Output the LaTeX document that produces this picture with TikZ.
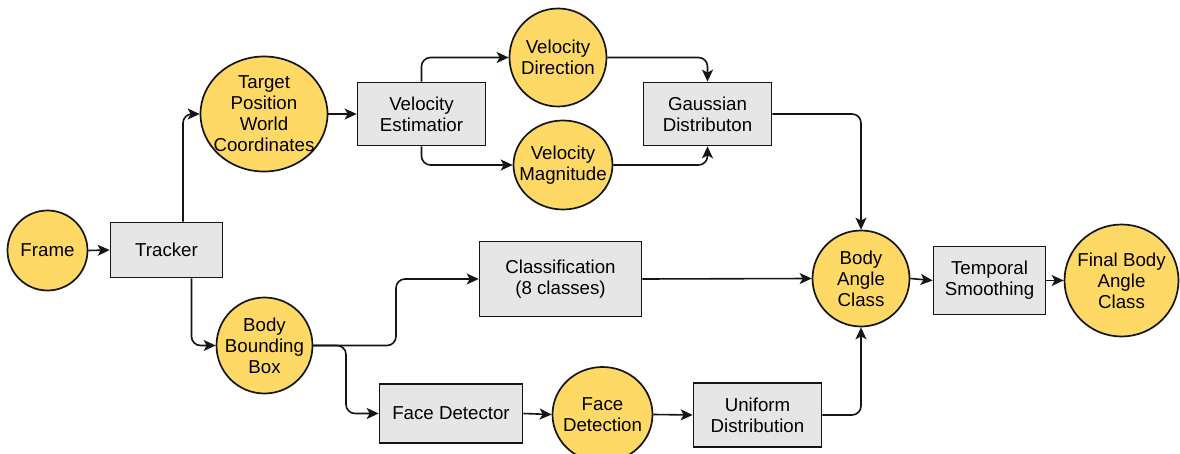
\documentclass[tikz,border=0pt]{standalone}
\usepackage{fontspec}
\setmainfont{Liberation Sans}
\usetikzlibrary{shapes.geometric,arrows.meta}
\definecolor{nodeyellow}{HTML}{FFD966}
\definecolor{boxgray}{HTML}{E6E6E6}
\definecolor{edgeblack}{HTML}{151515}
\begin{document}
\begin{tikzpicture}[x=1pt,y=-1pt,
  txt/.style={font=\fontsize{18.7}{21}\selectfont, align=center, text=black},
  proc/.style={rectangle, draw=edgeblack, line width=1.7pt, fill=boxgray, inner sep=0pt, txt},
  datum/.style={ellipse, draw=edgeblack, line width=1.7pt, fill=nodeyellow, inner sep=0pt},
  conn/.style={draw=edgeblack, line width=1.6pt, rounded corners=9pt,
    -{Stealth[length=12pt,width=11pt,inset=3pt]}},
]
\clip (0,0) rectangle (1180,454);
\fill[white] (0,0) rectangle (1180,454);

% data nodes (ellipses)
\node[datum, minimum width=80pt, minimum height=80pt, label={[txt]center:Frame}] (fr) at (47.5,250.5) {};
\node[datum, minimum width=127pt, minimum height=115pt, label={[txt]center:{Target\\Position\\World\\Coordinates}}] (tp) at (264,114) {};
\node[datum, minimum width=97pt, minimum height=98pt, label={[txt]center:{Velocity\\Direction}}] (vd) at (558,57.5) {};
\node[datum, minimum width=99pt, minimum height=89pt, label={[txt]center:{Velocity\\Magnitude}}] (vm) at (563,165) {};
\node[datum, minimum width=96pt, minimum height=96pt, label={[txt]center:{Body\\Bounding\\Box}}] (bb) at (264.5,345.5) {};
\node[datum, minimum width=100pt, minimum height=95pt, label={[txt]center:{Face\\Detection}}] (fc) at (602.5,414.5) {};
\node[datum, minimum width=97pt, minimum height=96pt, label={[txt]center:{Body\\Angle\\Class}}] (ba) at (861,278.5) {};
\node[datum, minimum width=114pt, minimum height=112pt, label={[txt]center:{Final Body\\Angle\\Class}}] (fb) at (1121.5,280.5) {};

% process nodes (boxes)
\node[proc, minimum width=112pt, minimum height=55pt] (tr) at (166.5,250) {Tracker};
\node[proc, minimum width=128pt, minimum height=63pt] (ve) at (421.5,114) {Velocity\\Estimatior};
\node[proc, minimum width=128pt, minimum height=63pt] (gd) at (707.5,114) {Gaussian\\Distributon};
\node[proc, minimum width=162pt, minimum height=75pt] (cl) at (560.5,279) {Classification\\(8 classes)};
\node[proc, minimum width=143pt, minimum height=59pt] (fd) at (451,413.5) {Face Detector};
\node[proc, minimum width=128pt, minimum height=64pt] (ud) at (757.5,415) {Uniform\\Distribution};
\node[proc, minimum width=112pt, minimum height=68pt] (ts) at (989.5,280.5) {Temporal\\Smoothing};

% junction points
\coordinate (j1) at (396,279);
\coordinate (j2) at (346,413.5);

% connectors
\draw[conn] (fr.east) -- (tr.west);
\draw[conn] ([xshift=16.5pt]tr.north) |- (tp.west);
\draw[conn] ([xshift=25pt]tr.south) |- (bb.west);
\draw[conn] (tp.east) -- (ve.west);
\draw[conn] (ve.north) |- (vd.west);
\draw[conn] (ve.south) |- (vm.west);
\draw[conn] (vd.east) -| (gd.north);
\draw[conn] (vm.east) -| (gd.south);
\draw[conn] (gd.east) -| (ba.north);
\draw[conn] (bb.east) -| (j1) -- (cl.west);
\draw[conn] (bb.east) -| (j2) -- (fd.west);
\draw[conn] (cl.east) -- (ba.west);
\draw[conn] (fd.east) -- (fc.west);
\draw[conn] (fc.east) -- (ud.west);
\draw[conn] (ud.east) -| (ba.south);
\draw[conn] (ba.east) -- (ts.west);
\draw[conn] (ts.east) -- (fb.west);
\end{tikzpicture}
\end{document}
